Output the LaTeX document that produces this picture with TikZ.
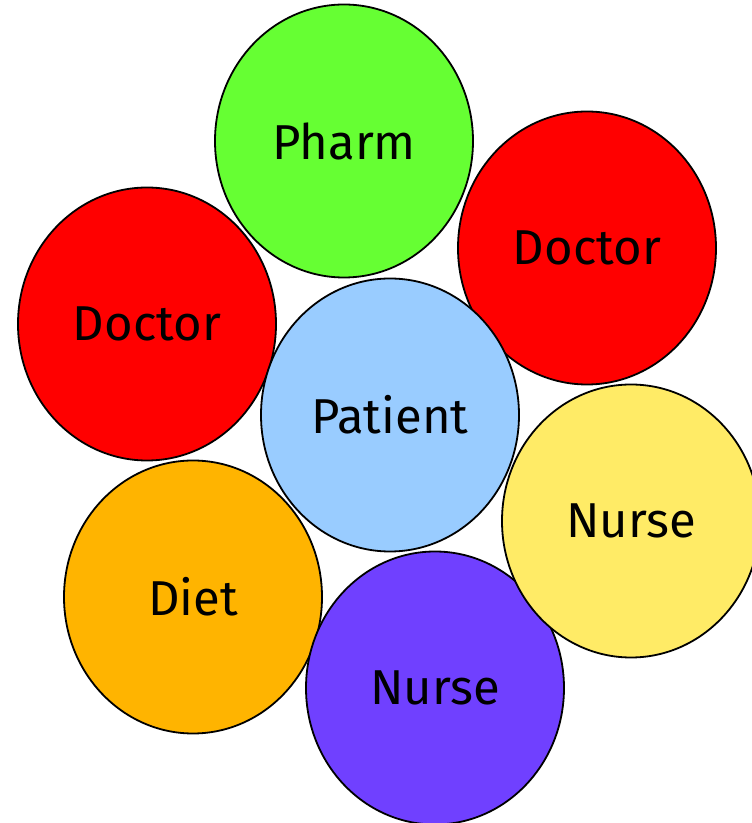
\documentclass[tikz,border=0pt]{standalone}
\usepackage{fontspec}
\setmainfont{Fira Sans}
\usetikzlibrary{shapes.geometric}
\definecolor{cgreen}{HTML}{66FF33}
\definecolor{cred}{HTML}{FF0000}
\definecolor{cblue}{HTML}{99CCFF}
\definecolor{cyellow}{HTML}{FFEB66}
\definecolor{corange}{HTML}{FFB400}
\definecolor{cpurple}{HTML}{7040FF}
\tikzset{
  bubble/.style={ellipse, draw=black, line width=1.8pt, minimum width=258pt, minimum height=273pt, inner sep=0pt,
    font=\fontsize{49}{54}\selectfont, text=black}
}
\begin{document}
\begin{tikzpicture}[x=1pt,y=1pt]
\useasboundingbox (0,0) rectangle (752,823);
\node[bubble, fill=cgreen] (pharm) at (344,682) {Pharm};
\node[bubble, fill=cred] (doctorR) at (587,575) {Doctor};
\node[bubble, fill=cred] (doctorL) at (147,499) {Doctor};
\node[bubble, fill=cblue] (patient) at (390,408) {Patient};
\node[bubble, fill=corange] (diet) at (193,226) {Diet};
\node[bubble, fill=cpurple] (nurseP) at (435,135) {Nurse};
\node[bubble, fill=cyellow] (nurseY) at (631,302) {Nurse};
\end{tikzpicture}
\end{document}
